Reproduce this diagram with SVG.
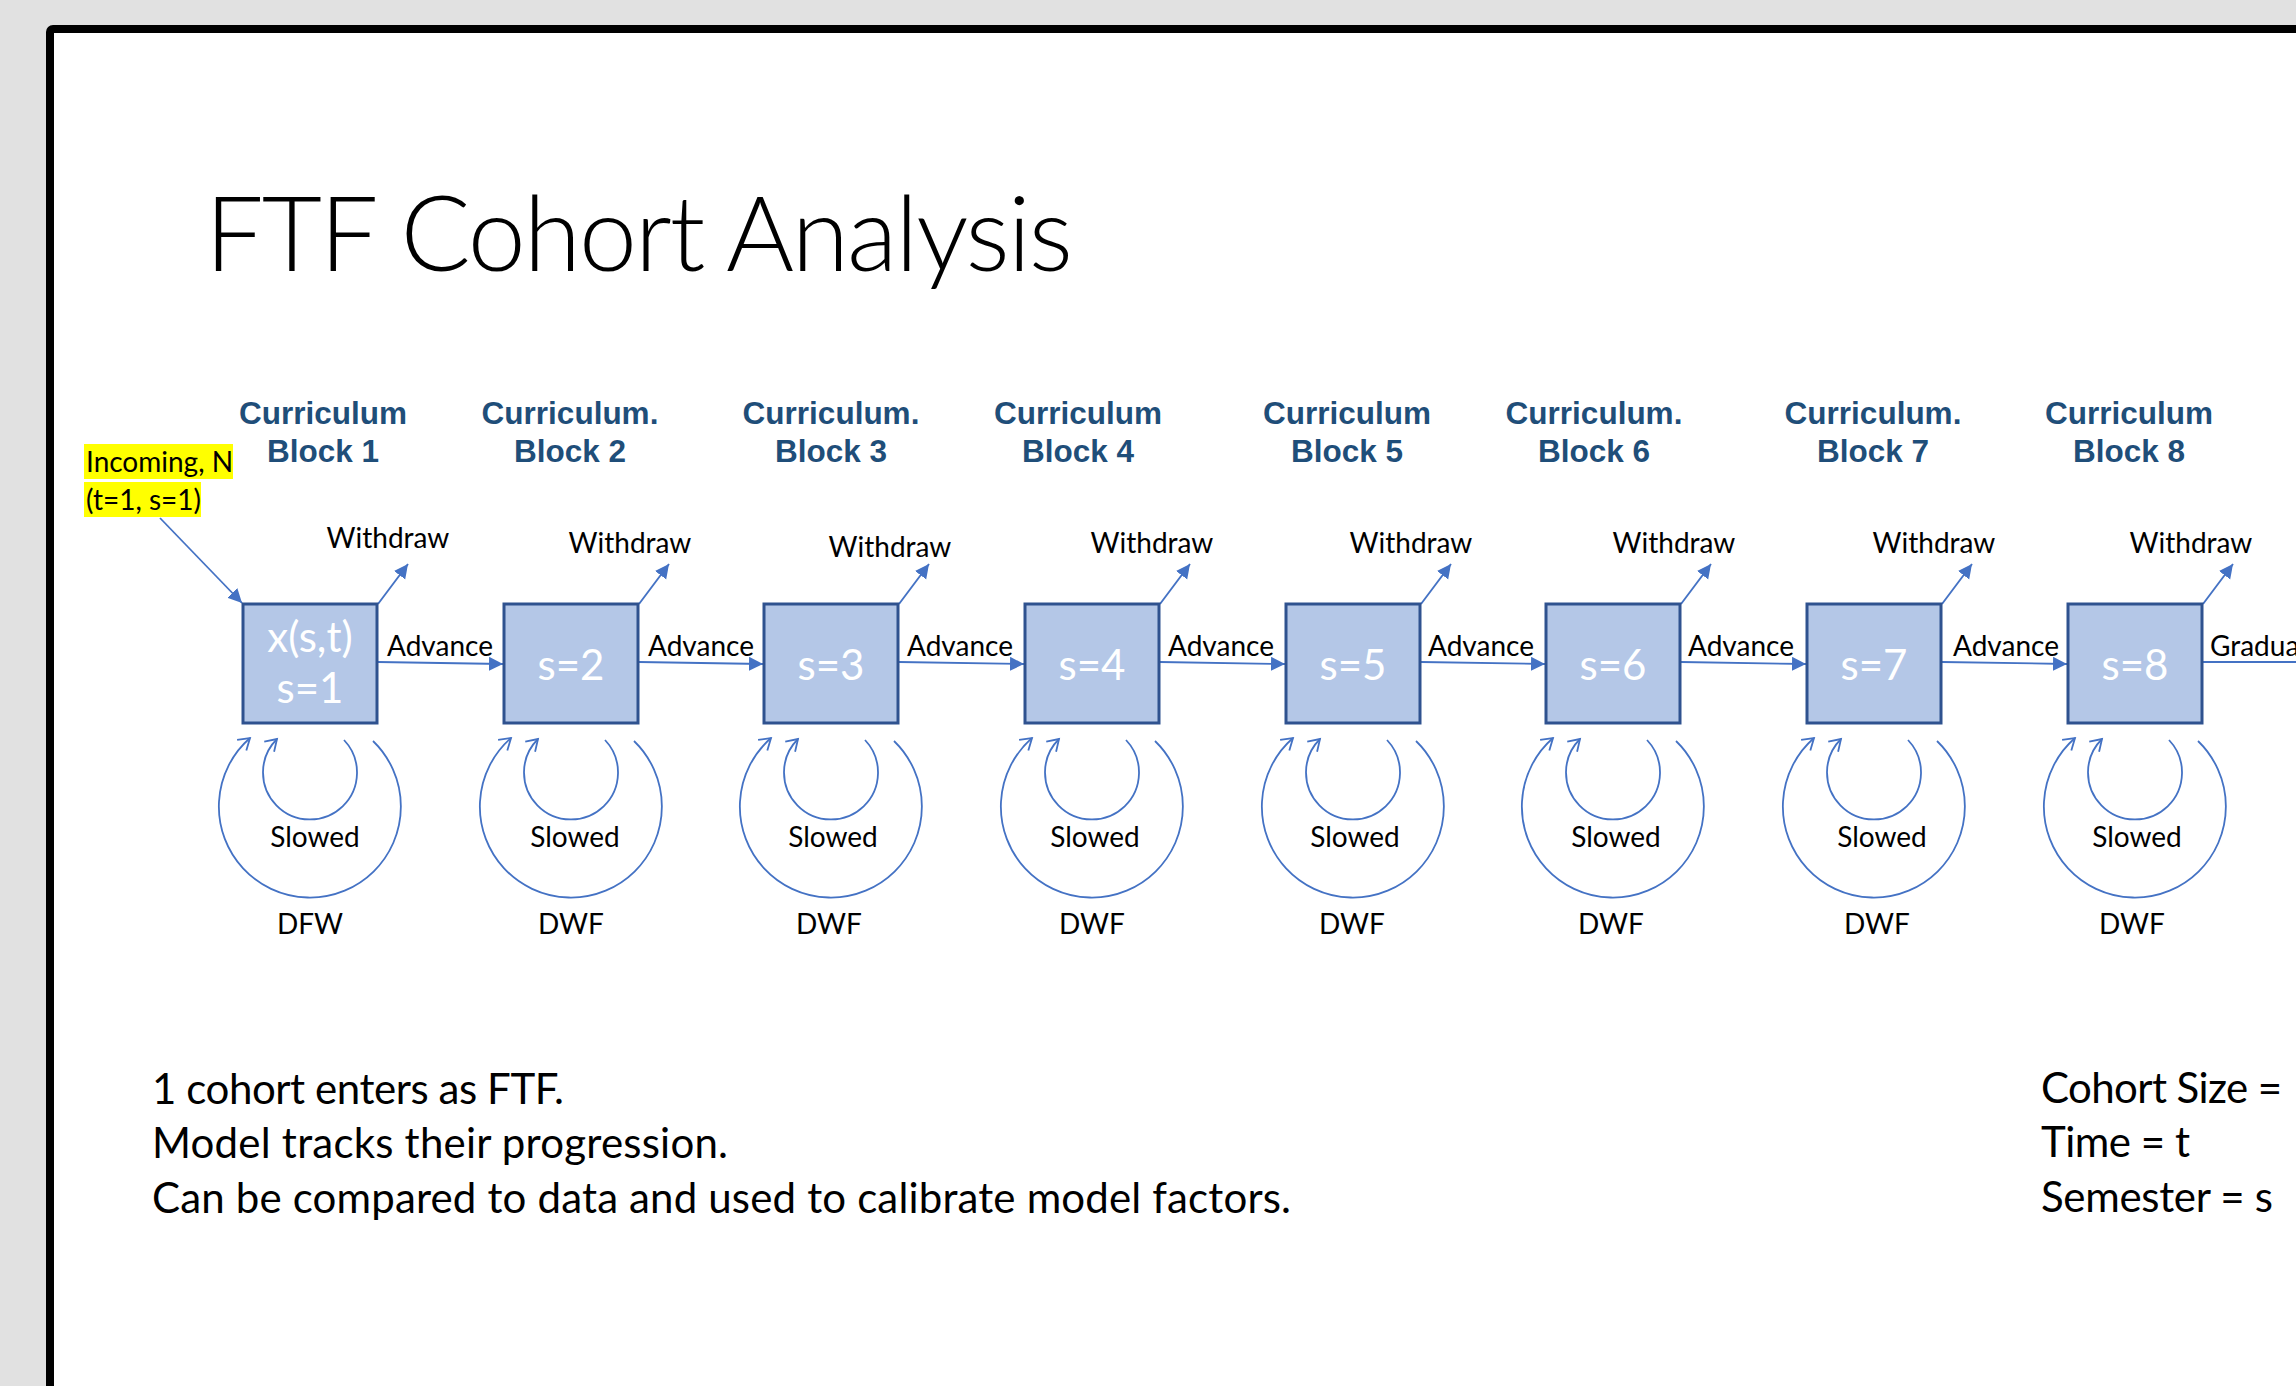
<svg xmlns="http://www.w3.org/2000/svg" width="2296" height="1386" viewBox="0 0 2296 1386">
<defs>
<style>
.lbl{font-family:Lato,"Open Sans","Liberation Sans",sans-serif;font-size:28px;fill:#000}
.hd{font-family:"Liberation Sans",Arial,sans-serif;font-weight:bold;font-size:31.5px;fill:#1F4E79;text-anchor:middle}
.box{fill:#B4C7E7;stroke:#2F528F;stroke-width:3}
.btx{font-family:Lato,"Open Sans","Liberation Sans",sans-serif;font-size:42px;fill:#fff;text-anchor:middle}
.ln{stroke:#4472C4;stroke-width:1.8;fill:none}
.big{font-family:Lato,"Open Sans","Liberation Sans",sans-serif;font-size:42px;fill:#000}
.mid{text-anchor:middle}
</style>
<marker id="tri" markerUnits="userSpaceOnUse" markerWidth="16" markerHeight="16" refX="14" refY="7" orient="auto" viewBox="0 0 16 16">
<path d="M0,0 L14,7 L0,14 z" fill="#4472C4"/>
</marker>
<marker id="vee" markerUnits="userSpaceOnUse" markerWidth="18" markerHeight="18" refX="13" refY="8" orient="auto" viewBox="0 0 18 18">
<path d="M2,1 L13,8 L2,15" fill="none" stroke="#4472C4" stroke-width="1.8"/>
</marker>
</defs>
<rect x="0" y="0" width="2296" height="1386" fill="#E1E1E1"/>
<rect x="50" y="29" width="2400" height="1500" rx="3" fill="#fff" stroke="#000" stroke-width="8"/>
<text x="205" y="271" font-family="Lato,'Open Sans','Liberation Sans',sans-serif" font-weight="300" font-size="104" textLength="868" fill="#000">FTF Cohort Analysis</text>

<g id="incoming">
<rect x="84" y="444" width="149" height="35" fill="#FFFF00"/>
<rect x="84" y="482" width="117" height="35" fill="#FFFF00"/>
<text class="lbl" x="86" y="472">Incoming, N</text>
<text class="lbl" x="86" y="510">(t=1, s=1)</text>
</g>

<g id="headings">
<text class="hd" x="323" y="424">Curriculum</text><text class="hd" x="323" y="462">Block 1</text>
<text class="hd" x="570" y="424">Curriculum.</text><text class="hd" x="570" y="462">Block 2</text>
<text class="hd" x="831" y="424">Curriculum.</text><text class="hd" x="831" y="462">Block 3</text>
<text class="hd" x="1078" y="424">Curriculum</text><text class="hd" x="1078" y="462">Block 4</text>
<text class="hd" x="1347" y="424">Curriculum</text><text class="hd" x="1347" y="462">Block 5</text>
<text class="hd" x="1594" y="424">Curriculum.</text><text class="hd" x="1594" y="462">Block 6</text>
<text class="hd" x="1873" y="424">Curriculum.</text><text class="hd" x="1873" y="462">Block 7</text>
<text class="hd" x="2129" y="424">Curriculum</text><text class="hd" x="2129" y="462">Block 8</text>
</g>

<g id="connectors">
<line class="ln" x1="160" y1="518" x2="242" y2="603" marker-end="url(#tri)"/>
<line class="ln" x1="378" y1="662" x2="503" y2="664" marker-end="url(#tri)"/>
<line class="ln" x1="639" y1="662" x2="763" y2="664" marker-end="url(#tri)"/>
<line class="ln" x1="899" y1="662" x2="1024" y2="664" marker-end="url(#tri)"/>
<line class="ln" x1="1160" y1="662" x2="1285" y2="664" marker-end="url(#tri)"/>
<line class="ln" x1="1421" y1="662" x2="1545" y2="664" marker-end="url(#tri)"/>
<line class="ln" x1="1681" y1="662" x2="1806" y2="664" marker-end="url(#tri)"/>
<line class="ln" x1="1942" y1="662" x2="2067" y2="664" marker-end="url(#tri)"/>
<line class="ln" x1="2203" y1="662" x2="2296" y2="662"/>
<line class="ln" x1="378" y1="604" x2="408" y2="564" marker-end="url(#tri)"/>
<line class="ln" x1="639" y1="604" x2="669" y2="564" marker-end="url(#tri)"/>
<line class="ln" x1="899" y1="604" x2="929" y2="564" marker-end="url(#tri)"/>
<line class="ln" x1="1160" y1="604" x2="1190" y2="564" marker-end="url(#tri)"/>
<line class="ln" x1="1421" y1="604" x2="1451" y2="564" marker-end="url(#tri)"/>
<line class="ln" x1="1681" y1="604" x2="1711" y2="564" marker-end="url(#tri)"/>
<line class="ln" x1="1942" y1="604" x2="1972" y2="564" marker-end="url(#tri)"/>
<line class="ln" x1="2203" y1="604" x2="2233" y2="564" marker-end="url(#tri)"/>
<path class="ln" d="M344,740 A47,47 0 1 1 277,739" marker-end="url(#vee)"/>
<path class="ln" d="M373,741 A91,91 0 1 1 250,738" marker-end="url(#vee)"/>
<path class="ln" d="M605,740 A47,47 0 1 1 538,739" marker-end="url(#vee)"/>
<path class="ln" d="M634,741 A91,91 0 1 1 511,738" marker-end="url(#vee)"/>
<path class="ln" d="M865,740 A47,47 0 1 1 798,739" marker-end="url(#vee)"/>
<path class="ln" d="M894,741 A91,91 0 1 1 771,738" marker-end="url(#vee)"/>
<path class="ln" d="M1126,740 A47,47 0 1 1 1059,739" marker-end="url(#vee)"/>
<path class="ln" d="M1155,741 A91,91 0 1 1 1032,738" marker-end="url(#vee)"/>
<path class="ln" d="M1387,740 A47,47 0 1 1 1320,739" marker-end="url(#vee)"/>
<path class="ln" d="M1416,741 A91,91 0 1 1 1293,738" marker-end="url(#vee)"/>
<path class="ln" d="M1647,740 A47,47 0 1 1 1580,739" marker-end="url(#vee)"/>
<path class="ln" d="M1676,741 A91,91 0 1 1 1553,738" marker-end="url(#vee)"/>
<path class="ln" d="M1908,740 A47,47 0 1 1 1841,739" marker-end="url(#vee)"/>
<path class="ln" d="M1937,741 A91,91 0 1 1 1814,738" marker-end="url(#vee)"/>
<path class="ln" d="M2169,740 A47,47 0 1 1 2102,739" marker-end="url(#vee)"/>
<path class="ln" d="M2198,741 A91,91 0 1 1 2075,738" marker-end="url(#vee)"/>
</g>

<g id="edge-labels">
<text class="lbl mid" x="388" y="548">Withdraw</text>
<text class="lbl mid" x="630" y="553">Withdraw</text>
<text class="lbl mid" x="890" y="557">Withdraw</text>
<text class="lbl mid" x="1152" y="553">Withdraw</text>
<text class="lbl mid" x="1411" y="553">Withdraw</text>
<text class="lbl mid" x="1674" y="553">Withdraw</text>
<text class="lbl mid" x="1934" y="553">Withdraw</text>
<text class="lbl mid" x="2191" y="553">Withdraw</text>
<text class="lbl" x="387" y="656">Advance</text>
<text class="lbl" x="648" y="656">Advance</text>
<text class="lbl" x="907" y="656">Advance</text>
<text class="lbl" x="1168" y="656">Advance</text>
<text class="lbl" x="1428" y="656">Advance</text>
<text class="lbl" x="1688" y="656">Advance</text>
<text class="lbl" x="1953" y="656">Advance</text>
<text class="lbl" x="2210" y="656">Gradua</text>
<text class="lbl mid" x="315" y="847">Slowed</text><text class="lbl mid" x="310" y="934">DFW</text>
<text class="lbl mid" x="575" y="847">Slowed</text><text class="lbl mid" x="571" y="934">DWF</text>
<text class="lbl mid" x="833" y="847">Slowed</text><text class="lbl mid" x="829" y="934">DWF</text>
<text class="lbl mid" x="1095" y="847">Slowed</text><text class="lbl mid" x="1092" y="934">DWF</text>
<text class="lbl mid" x="1355" y="847">Slowed</text><text class="lbl mid" x="1352" y="934">DWF</text>
<text class="lbl mid" x="1616" y="847">Slowed</text><text class="lbl mid" x="1611" y="934">DWF</text>
<text class="lbl mid" x="1882" y="847">Slowed</text><text class="lbl mid" x="1877" y="934">DWF</text>
<text class="lbl mid" x="2137" y="847">Slowed</text><text class="lbl mid" x="2132" y="934">DWF</text>
</g>

<g id="s1"><rect class="box" x="243" y="604" width="134" height="119"/><text class="btx" x="310" y="652">x(s,t)</text><text class="btx" x="310" y="703">s=1</text></g>
<g id="s2"><rect class="box" x="504" y="604" width="134" height="119"/><text class="btx" x="571" y="680">s=2</text></g>
<g id="s3"><rect class="box" x="764" y="604" width="134" height="119"/><text class="btx" x="831" y="680">s=3</text></g>
<g id="s4"><rect class="box" x="1025" y="604" width="134" height="119"/><text class="btx" x="1092" y="680">s=4</text></g>
<g id="s5"><rect class="box" x="1286" y="604" width="134" height="119"/><text class="btx" x="1353" y="680">s=5</text></g>
<g id="s6"><rect class="box" x="1546" y="604" width="134" height="119"/><text class="btx" x="1613" y="680">s=6</text></g>
<g id="s7"><rect class="box" x="1807" y="604" width="134" height="119"/><text class="btx" x="1874" y="680">s=7</text></g>
<g id="s8"><rect class="box" x="2068" y="604" width="134" height="119"/><text class="btx" x="2135" y="680">s=8</text></g>

<g id="notes">
<text class="big" x="152" y="1104" textLength="412">1 cohort enters as FTF.</text>
<text class="big" x="152" y="1158" textLength="576">Model tracks their progression.</text>
<text class="big" x="152" y="1213" textLength="1139">Can be compared to data and used to calibrate model factors.</text>
<text class="big" x="2041" y="1103" textLength="241">Cohort Size =</text>
<text class="big" x="2041" y="1157" textLength="149">Time = t</text>
<text class="big" x="2041" y="1212" textLength="232">Semester = s</text>
</g>
</svg>
